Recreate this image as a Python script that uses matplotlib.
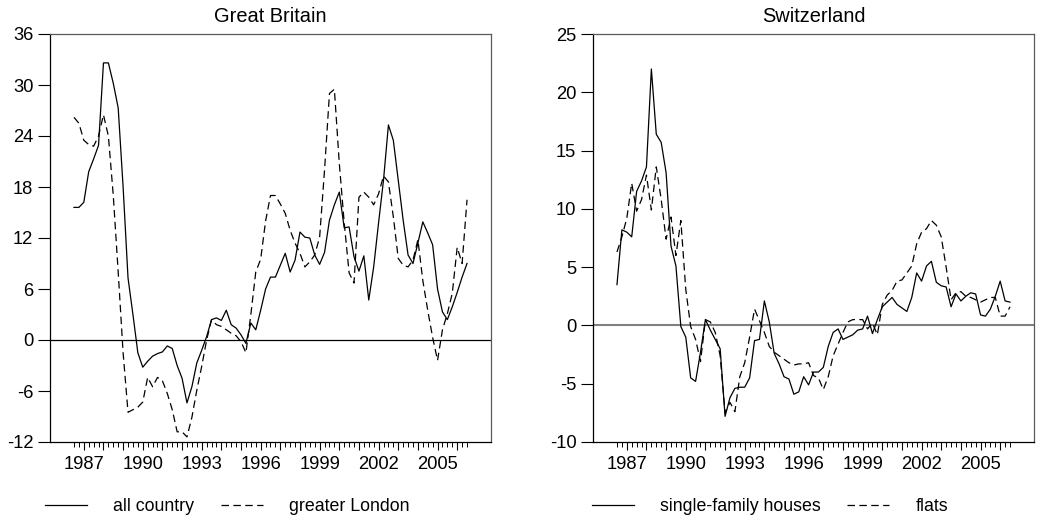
import numpy as np
import pandas as pd
import matplotlib
matplotlib.use('Agg')
import matplotlib.pyplot as plt
from matplotlib.ticker import MultipleLocator, FixedLocator

plt.rcParams['font.family'] = ['Liberation Sans', 'DejaVu Sans']
plt.rcParams['axes.unicode_minus'] = False

# quarterly data, 1986Q3 - 2006Q3 (annual growth rates, %)
periods = pd.period_range('1986Q3', '2006Q3', freq='Q')

gb_all = [15.6, 15.6, 16.2, 19.8, 21.3, 22.9, 32.6, 32.6, 30.2, 27.3,
          18.0, 7.3, 3.0, -1.5, -3.2, -2.5, -1.9, -1.6, -1.4, -0.7,
          -1.0, -3.0, -4.5, -7.4, -5.5, -2.7, -1.2, 0.4, 2.4, 2.6,
          2.3, 3.5, 1.8, 1.4, 0.6, -0.4, 2.0, 1.2, 3.5, 6.0,
          7.4, 7.4, 8.8, 10.2, 8.0, 9.4, 12.7, 12.1, 12.0, 10.0,
          8.9, 10.3, 14.1, 15.9, 17.4, 13.2, 13.3, 9.8, 8.1, 9.9,
          4.7, 8.6, 13.8, 18.8, 25.3, 23.5, 18.8, 14.1, 10.0, 9.0,
          11.4, 13.9, 12.6, 11.2, 6.0, 3.3, 2.4, 3.9, 5.6, 7.4,
          9.0]
gb_london = [26.2, 25.5, 23.5, 23.0, 22.8, 24.0, 26.5, 24.0, 17.0, 8.0,
             -1.5, -8.5, -8.2, -7.9, -7.3, -4.4, -5.5, -4.4, -4.8, -6.3,
             -8.2, -10.8, -10.8, -11.4, -9.1, -5.9, -3.1, 0.0, 2.4, 1.8,
             1.6, 1.2, 0.8, 0.5, -0.2, -1.5, 3.0, 8.0, 9.5, 14.0,
             17.0, 17.0, 16.0, 14.9, 12.9, 11.4, 10.2, 8.6, 9.2, 10.0,
             12.1, 20.0, 29.0, 29.5, 20.8, 13.8, 7.9, 6.7, 16.8, 17.4,
             16.8, 15.9, 17.2, 19.3, 18.6, 14.5, 9.6, 8.8, 8.6, 9.4,
             11.8, 7.0, 3.5, 0.3, -2.4, 1.2, 3.1, 5.5, 10.9, 9.0,
             16.5]
ch_houses = [3.5, 8.2, 8.0, 7.6, 11.5, 12.4, 13.6, 22.0, 16.4, 15.7,
             13.1, 6.8, 5.1, -0.1, -1.0, -4.5, -4.8, -2.3, 0.5, -0.4,
             -1.2, -2.0, -7.8, -6.2, -5.4, -5.3, -5.3, -4.5, -1.3, -1.2,
             2.1, 0.3, -2.4, -3.3, -4.4, -4.6, -5.9, -5.7, -4.4, -5.1,
             -4.0, -4.0, -3.6, -1.8, -0.6, -0.3, -1.2, -1.0, -0.8, -0.4,
             -0.3, 0.8, -0.7, 0.5, 1.6, 2.0, 2.4, 1.8, 1.5, 1.2,
             2.4, 4.5, 3.8, 5.1, 5.5, 3.7, 3.4, 3.3, 1.6, 2.7,
             2.1, 2.5, 2.8, 2.7, 0.9, 0.8, 1.4, 2.5, 3.8, 2.1,
             2.0]
ch_flats = [6.3, 7.6, 9.2, 12.2, 9.8, 10.8, 12.9, 9.9, 13.6, 10.8,
            7.4, 9.3, 6.0, 9.0, 3.1, -0.1, -1.2, -3.1, 0.5, 0.3,
            -0.6, -2.6, -7.5, -6.6, -7.4, -4.4, -3.2, -1.0, 1.4, 0.4,
            -0.6, -1.8, -2.3, -2.6, -2.9, -3.2, -3.4, -3.3, -3.3, -3.2,
            -4.3, -4.5, -5.5, -4.4, -2.6, -1.6, -0.6, 0.3, 0.5, 0.5,
            0.5, -0.3, 0.2, -0.8, 1.8, 2.6, 3.0, 3.8, 3.9, 4.5,
            5.1, 7.0, 8.0, 8.3, 9.0, 8.6, 7.6, 5.0, 2.2, 2.8,
            2.9, 2.5, 2.4, 2.2, 2.0, 2.2, 2.4, 2.4, 0.8, 0.8,
            1.6]

year_labels = [1987, 1990, 1993, 1996, 1999, 2002, 2005]

x = periods.year + (periods.quarter - 1) / 4.0

fig = plt.figure(figsize=(10.37, 5.18), dpi=100)
ax1 = fig.add_axes([50/1037, 76/518, 441/1037, 408/518])
ax2 = fig.add_axes([593/1037, 76/518, 441/1037, 408/518])

dash = (0, (6, 3.5))

def style_axis(ax, title, ylim, ystep):
    ax.set_xlim(x[0] - 1.22, x[-1] + 1.22)
    ax.set_ylim(*ylim)
    ax.yaxis.set_major_locator(MultipleLocator(ystep))
    years = np.arange(1987, 2007)
    ax.xaxis.set_major_locator(FixedLocator(years))
    ax.xaxis.set_minor_locator(FixedLocator(x))
    ax.set_xticklabels([str(y) if y in year_labels else '' for y in years])
    ax.tick_params(axis='x', which='major', direction='out', length=6,
                   width=0.8, labelsize=13.2, pad=4)
    ax.tick_params(axis='x', which='minor', direction='out', length=3.5,
                   width=0.7)
    ax.tick_params(axis='y', direction='out', length=8.5, width=0.8,
                   labelsize=13.2, pad=3.5)
    for s in ['top', 'right']:
        ax.spines[s].set_color('#5a5a5a')
    for s in ax.spines.values():
        s.set_linewidth(0.9)
    ax.set_title(title, fontsize=14.4, pad=8.5)

# Great Britain
ax1.axhline(0, color='black', lw=0.9)
ax1.plot(x, gb_all, color='black', lw=0.9, label='all country')
ax1.plot(x, gb_london, color='black', lw=0.9, ls=dash, label='greater London')
style_axis(ax1, 'Great Britain', (-12, 36), 6)

# Switzerland
ax2.axhline(0, color='#808080', lw=1.5)
ax2.plot(x, ch_houses, color='black', lw=0.9, label='single-family houses')
ax2.plot(x, ch_flats, color='black', lw=0.9, ls=dash, label='flats')
style_axis(ax2, 'Switzerland', (-10, 25), 5)

for ax, x0 in [(ax1, -0.011), (ax2, -0.002)]:
    ax.legend(loc='center left', bbox_to_anchor=(x0, -0.159), ncol=2,
              frameon=False, fontsize=12.8, handlelength=2.36,
              handletextpad=1.46, columnspacing=1.5, borderpad=0,
              borderaxespad=0)

fig.savefig('out.png', dpi=100)
